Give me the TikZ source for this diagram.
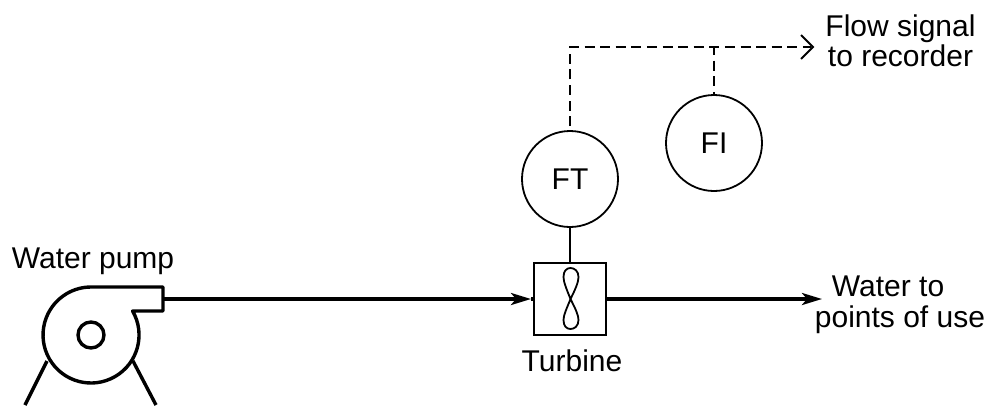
\documentclass[tikz,border=0pt]{standalone}
\usepackage{fontspec}
\setmainfont{Liberation Sans}
\usetikzlibrary{arrows.meta,calc}
\tikzset{
  lbl/.style={inner sep=0pt,outer sep=0pt,font=\fontsize{30}{30.5}\selectfont},
  inst/.style={circle,draw,line width=1.8pt,minimum size=96pt,inner sep=0pt,font=\fontsize{30}{33}\selectfont},
  pipe/.style={line width=3.4pt},
  pumpline/.style={line width=3.4pt,line join=round,line cap=round},
  sig/.style={line width=1.8pt,dash pattern=on 10pt off 5.6pt},
  thin1/.style={line width=1.8pt},
  headout/.style={-{Stealth[length=20pt,width=12pt,inset=5pt]}},
}
\begin{document}
\begin{tikzpicture}[x=1pt,y=-1pt]
\useasboundingbox (0,0) rectangle (987,405);
% pump
\coordinate (pc) at (91,335);
\node[circle,draw,line width=3.4pt,minimum size=26pt,inner sep=0pt] (eye) at (pc) {};
\coordinate (pipeout) at (163,299);
\draw[pumpline] (91,287) -- (163,287) -- (163,311) -- (132.6,311)
  arc[start angle=30,end angle=-270,radius=48pt];
\draw[pumpline,line cap=butt] (47,361) -- (25,405);
\draw[pumpline,line cap=butt] (133,361) -- (156,405);
% turbine
\node[draw,line width=1.8pt,minimum size=72pt,inner sep=0pt] (turb) at (570,299) {};
\draw[thin1] (570.5,299) .. controls (575.5,289) and (578.5,282) .. (578.5,277)
  .. controls (578.5,271) and (574.5,268) .. (570.5,268)
  .. controls (566.5,268) and (563.5,271) .. (563.5,277)
  .. controls (563.5,282) and (566.5,289) .. (570.5,299)
  .. controls (575.5,309) and (578.5,315) .. (578.5,320)
  .. controls (578.5,326) and (574.5,329) .. (570.5,329)
  .. controls (566.5,329) and (563.5,326) .. (563.5,320)
  .. controls (563.5,315) and (566.5,309) .. (570.5,299);
% instruments
\node[inst] (ft) at (570,179) {FT\hspace{4pt}};
\node[inst] (fi) at (714,143) {FI\hspace{2pt}};
\draw[thin1] (ft) -- (turb);
% pipes
\coordinate (ain) at (531,299);
\coordinate (wout) at (822,299);
\draw[pipe,headout] (pipeout) -- (ain);
\draw[pipe] (ain) -- (turb.west);
\draw[pipe,headout] (turb.east) -- (wout);
% signal
\coordinate (corner) at (570,47);
\coordinate (tee) at (714,47);
\coordinate (sigend) at (813,47);
\draw[sig,dash phase=11.6pt] (ft.north) -- (corner) -- (tee) -- ($(sigend)+(-2,0)$);
\draw[sig,dash phase=2pt] (tee) -- (fi.north);
\draw[thin1,line join=miter] (801,35) -- (sigend) -- (801,59);
% labels
\node[lbl] (l1) at (93,261) {Water pump};
\node[lbl] (l2) at (572,360.5) {Turbine};
\node[lbl,align=left] (l3) at (900,305) {\hspace*{17pt}Water to\\points of use};
\node[lbl,align=center] (l4) at (900.5,41) {Flow signal\\to recorder};
\end{tikzpicture}
\end{document}
